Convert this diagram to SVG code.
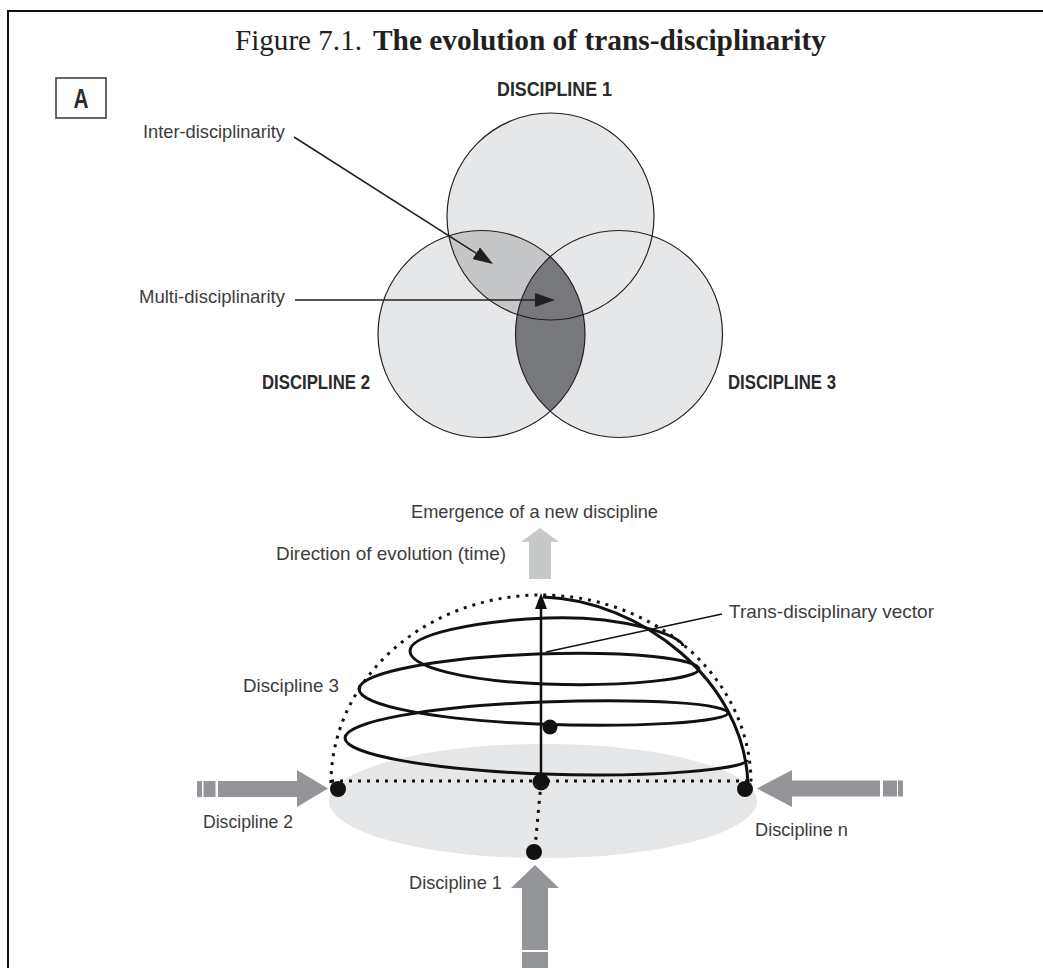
<svg xmlns="http://www.w3.org/2000/svg" width="1043" height="968" viewBox="0 0 1043 968">
<style>
.lbl{font-family:"Liberation Sans",Arial,sans-serif;font-size:18.5px;fill:#3c3c3e}
.cap{font-family:"Liberation Sans",Arial,sans-serif;font-size:21px;font-weight:bold;fill:#2a2a2c}
.ttl{font-family:"Liberation Serif","Times New Roman",serif;font-size:30px;fill:#231f20}
.circ{fill:#e6e7e8;stroke:none}
.outl{fill:none;stroke:#231f20;stroke-width:1.2}
.ln{fill:none;stroke:#231f20;stroke-width:1.5}
.dot{fill:none;stroke:#111;stroke-width:3;stroke-dasharray:3 6}
.gray{fill:#939598}
.blk{fill:#111}
</style>
<defs>
<marker id="ah" viewBox="0 0 20 14" refX="10" refY="7" markerWidth="20" markerHeight="14" markerUnits="userSpaceOnUse" orient="auto"><path d="M0,0 L20,7 L0,14 z" fill="#231f20"/></marker>
<marker id="ahs" viewBox="0 0 16 12" refX="8" refY="6" markerWidth="16" markerHeight="12" markerUnits="userSpaceOnUse" orient="auto"><path d="M0,0 L16,6 L0,12 z" fill="#111"/></marker>
<clipPath id="c1"><circle cx="550.5" cy="216.5" r="103.5"/></clipPath>
<clipPath id="c2"><circle cx="481.5" cy="334" r="103.5"/></clipPath>
</defs>
<rect width="1043" height="968" fill="#fff"/>
<g id="frame"><path d="M8,968 L8,11 L1043,11" fill="none" stroke="#111" stroke-width="2"/></g>
<g id="title">
<text class="ttl" x="235" y="50" textLength="127" lengthAdjust="spacingAndGlyphs">Figure 7.1.</text>
<text class="ttl" x="373" y="50" font-weight="bold" textLength="453" lengthAdjust="spacingAndGlyphs">The evolution of trans-disciplinarity</text>
</g>
<g id="panelA"><rect x="56" y="78" width="50" height="40" fill="none" stroke="#333" stroke-width="1.5"/><text class="cap" x="73.5" y="108" style="font-size:27px" textLength="15" lengthAdjust="spacingAndGlyphs">A</text></g>
<g id="venn">
<circle class="circ" cx="550.5" cy="216.5" r="103.5"/>
<circle class="circ" cx="481.5" cy="334" r="103.5"/>
<circle class="circ" cx="619" cy="334" r="103.5"/>
<circle cx="481.5" cy="334" r="103.5" fill="#c5c6c8" clip-path="url(#c1)"/>
<circle cx="619" cy="334" r="103.5" fill="#77787b" clip-path="url(#c2)"/>
<circle class="outl" cx="550.5" cy="216.5" r="103.5"/>
<circle class="outl" cx="481.5" cy="334" r="103.5"/>
<circle class="outl" cx="619" cy="334" r="103.5"/>
</g>
<g id="labels-top">
<text class="cap" x="497" y="96" textLength="115" lengthAdjust="spacingAndGlyphs">DISCIPLINE 1</text>
<text class="cap" x="262" y="389" textLength="108" lengthAdjust="spacingAndGlyphs">DISCIPLINE 2</text>
<text class="cap" x="728" y="389" textLength="108" lengthAdjust="spacingAndGlyphs">DISCIPLINE 3</text>
<text class="lbl" x="143" y="138" textLength="142" lengthAdjust="spacingAndGlyphs">Inter-disciplinarity</text>
<text class="lbl" x="139" y="303" textLength="146" lengthAdjust="spacingAndGlyphs">Multi-disciplinarity</text>
</g>
<g id="base">
<ellipse cx="543" cy="801" rx="214" ry="57" fill="#e6e7e8"/>
</g>
<g id="dome">
<path class="dot" d="M331,783 A210,188 0 0 1 751,783"/>
<path class="dot" d="M331,781 L752,781"/>
<path class="dot" d="M541,783 L535,848"/>
<path d="M543,597 C640,600 745,680 748,785" fill="none" stroke="#111" stroke-width="3"/>
<path id="spiral" fill="none" stroke="#111" stroke-width="3" stroke-linejoin="round" d="M747,760 C747,769 652,778 543,774 C434,770 345,755 345,738 C345,721 434,706 543,702 C652,698 728,704 728,713 C728,722 636,728 537,724 C438,720 359,706 359,689 C359,672 443,657.5 537,654 C631,650.5 699,659 699,669 C699,679 625,687 545,684 C465,681 410,667 410,651 C410,635 472,621 547,618 C622,615 683,636 683,646"/>
</g>
<g id="connectors">
<line class="ln" x1="294" y1="137" x2="484.6" y2="258.6" marker-end="url(#ah)"/>
<line class="ln" x1="295" y1="300" x2="545" y2="300" marker-end="url(#ah)"/>
<line x1="541" y1="782" x2="541" y2="601" stroke="#111" stroke-width="2.5" marker-end="url(#ahs)"/>
<line x1="722" y1="614" x2="546" y2="652" stroke="#111" stroke-width="1.3"/>
</g>
<g id="dots">
<circle class="blk" cx="541" cy="782" r="8.5"/>
<circle class="blk" cx="550" cy="727" r="7.5"/>
<circle class="blk" cx="338" cy="789" r="8"/>
<circle class="blk" cx="745" cy="789" r="8"/>
<circle class="blk" cx="534" cy="852" r="8"/>
</g>
<g id="arrow-time"><path d="M540,528 L559,542 L551,542 L551,579 L529,579 L529,542 L521,542 z" fill="#c7c8ca"/></g>
<g id="arrow-d2" class="gray"><rect x="197" y="781" width="5" height="16"/><rect x="203.5" y="781" width="12" height="16"/><rect x="218" y="781" width="80" height="16"/><path d="M297,770 L328,788.5 L297,807 z"/></g>
<g id="arrow-dn" class="gray"><path d="M757,788.5 L792,770 L792,807 z"/><rect x="791" y="780.5" width="89" height="16"/><rect x="883" y="780.5" width="14" height="16"/><rect x="898" y="780.5" width="5" height="16"/></g>
<g id="arrow-d1" class="gray"><path d="M535,865 L559,888 L511,888 z"/><rect x="522" y="887" width="26" height="63"/><rect x="522" y="952" width="26" height="16"/></g>
<g id="labels-bottom">
<text class="lbl" x="411" y="518" textLength="247" lengthAdjust="spacingAndGlyphs">Emergence of a new discipline</text>
<text class="lbl" x="276" y="560" textLength="230" lengthAdjust="spacingAndGlyphs">Direction of evolution (time)</text>
<text class="lbl" x="729" y="618" textLength="205" lengthAdjust="spacingAndGlyphs">Trans-disciplinary vector</text>
<text class="lbl" x="243" y="692" textLength="96" lengthAdjust="spacingAndGlyphs">Discipline 3</text>
<text class="lbl" x="203" y="828" textLength="90" lengthAdjust="spacingAndGlyphs">Discipline 2</text>
<text class="lbl" x="755" y="836" textLength="93" lengthAdjust="spacingAndGlyphs">Discipline n</text>
<text class="lbl" x="409" y="889" textLength="93" lengthAdjust="spacingAndGlyphs">Discipline 1</text>
</g>
</svg>
